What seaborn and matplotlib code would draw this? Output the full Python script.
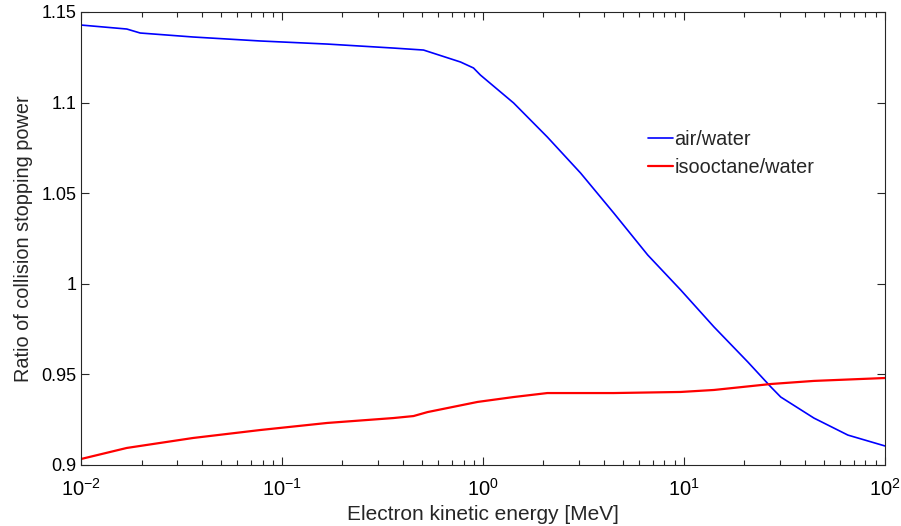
import numpy as np
import pandas as pd
import matplotlib
matplotlib.use("Agg")
import matplotlib.pyplot as plt
import seaborn as sns

# Electron kinetic energy [MeV] and ratios
air_energy = [0.01, 0.0169, 0.0197, 0.0361, 0.078, 0.168, 0.358, 0.506, 0.773,
              0.897, 0.971, 1.42, 2.09, 3.06, 4.47, 6.60, 9.63, 14.1, 20.8,
              27.1, 30.3, 44.3, 65.4, 100.0]
air_ratio = [1.1428, 1.1406, 1.1384, 1.1362, 1.1340, 1.1323, 1.1301, 1.1290,
             1.1224, 1.1191, 1.1152, 1.0998, 1.0810, 1.0611, 1.0391, 1.0159,
             0.9966, 0.9762, 0.9568, 0.9430, 0.9375, 0.9259, 0.9165, 0.9105]

iso_energy = [0.01, 0.0169, 0.0361, 0.078, 0.168, 0.358, 0.451, 0.530, 0.940,
              1.42, 2.09, 4.47, 9.63, 14.1, 27.1, 44.3, 100.0]
iso_ratio = [0.9033, 0.9094, 0.9149, 0.9193, 0.9232, 0.9259, 0.9270, 0.9292,
             0.9348, 0.9375, 0.9397, 0.9397, 0.9403, 0.9414, 0.9447, 0.9464,
             0.9480]


def main():
    sns.set_style("white")
    plt.rcParams["font.family"] = ["Liberation Sans", "DejaVu Sans"]
    plt.rcParams["mathtext.default"] = "regular"

    fig = plt.figure(figsize=(9.01, 5.26), dpi=100)
    ax = fig.add_axes([0.0899, 0.1160, 0.8923, 0.8612])

    sns.lineplot(x=air_energy, y=air_ratio, color="#0000ff", linewidth=1.2,
                 label="air/water", ax=ax)
    sns.lineplot(x=iso_energy, y=iso_ratio, color="#ff0000", linewidth=1.6,
                 label="isooctane/water", ax=ax)

    ax.set_xscale("log")
    ax.set_xlim(0.01, 100)
    ax.set_ylim(0.9, 1.15)
    ax.set_yticks([0.9, 0.95, 1.0, 1.05, 1.1, 1.15])
    ax.set_yticklabels(["0.9", "0.95", "1", "1.05", "1.1", "1.15"])

    ax.set_xlabel("Electron kinetic energy [MeV]", fontsize=15, labelpad=4)
    ax.set_ylabel("Ratio of collision stopping power", fontsize=14.3,
                  labelpad=6)

    ax.tick_params(axis="both", which="both", direction="in", bottom=True,
                   left=True, top=True, right=True, colors="#262626",
                   labelcolor="black")
    ax.tick_params(which="major", length=6, width=0.8)
    ax.tick_params(which="minor", length=3.5, width=0.8)
    ax.tick_params(axis="y", labelsize=13)
    ax.tick_params(axis="x", which="major", labelsize=14.5, pad=9)
    for spine in ax.spines.values():
        spine.set_color("#262626")
        spine.set_linewidth(0.8)

    ax.legend(loc="upper left", bbox_to_anchor=(0.695, 0.757), frameon=False,
              fontsize=14.3, handlelength=1.25, handletextpad=0.1,
              labelspacing=0.45, borderaxespad=0)

    fig.savefig("out.png", dpi=100)


if __name__ == "__main__":
    main()
